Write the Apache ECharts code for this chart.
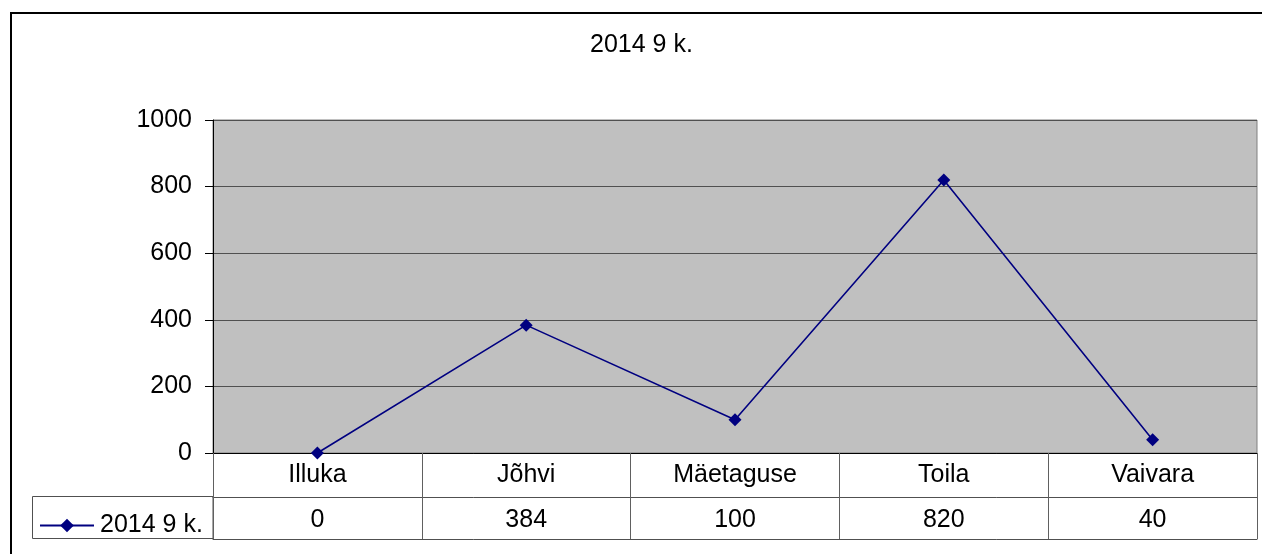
<!DOCTYPE html>
<html>
<head>
<meta charset="utf-8">
<title>2014 9 k.</title>
<script src="https://cdn.jsdelivr.net/npm/echarts@6/dist/echarts.min.js"></script>
<style>
    html, body { margin: 0; padding: 0; background: #fff; }
    #chart { width: 1262px; height: 554px; }
</style>
</head>
<body>
<div id="chart"></div>
<script>
// data
const categories = ['Illuka', 'Jõhvi', 'Mäetaguse', 'Toila', 'Vaivara'];
const values = [0, 384, 100, 820, 40];
const seriesName = '2014 9 k.';
const yTicks = [0, 200, 400, 600, 800, 1000];

const font = '"Liberation Sans", Arial, sans-serif';
const fs = 25;
let myChart = echarts.init(document.getElementById('chart'));

let option = {
    backgroundColor: '#fff',
    animation: false,
    title: {
        text: seriesName,
        left: 590,
        top: 33,
        padding: 0,
        textStyle: { fontFamily: font, fontSize: fs, fontWeight: 'normal', color: '#000' }
    },
    legend: {
        data: [seriesName],
        left: 39,
        top: 513,
        padding: 0,
        itemWidth: 54,
        itemHeight: 17,
        textStyle: { fontFamily: font, fontSize: fs, color: '#000', padding: [0, 0, 0, 1] }
    },
    grid: {
        left: 213,
        right: 5,
        top: 120,
        bottom: 101,
        show: true,
        backgroundColor: '#c0c0c0',
        borderColor: '#808080',
        borderWidth: 1
    },
    xAxis: [
        {
            // category row of the data table
            type: 'category',
            data: categories,
            boundaryGap: true,
            axisLine: { show: true, lineStyle: { color: '#000', width: 1 } },
            axisTick: { show: true, interval: 0, length: 86, lineStyle: { color: '#606060' } },
            axisLabel: { margin: 10, interval: 0, fontFamily: font, fontSize: fs, color: '#000' },
            splitLine: { show: false }
        },
        {
            // value row of the data table
            type: 'category',
            data: categories,
            position: 'bottom',
            offset: 44,
            axisLine: { show: true, lineStyle: { color: '#505050', width: 1 } },
            axisTick: { show: false },
            axisLabel: {
                margin: 11, interval: 0, fontFamily: font, fontSize: fs, color: '#000',
                formatter: (v, i) => String(values[i])
            }
        },
        {
            type: 'category',
            data: categories,
            position: 'bottom',
            offset: 86,
            axisLine: { show: true, lineStyle: { color: '#505050', width: 1 } },
            axisTick: { show: false },
            axisLabel: { show: false }
        }
    ],
    yAxis: {
        type: 'value',
        min: yTicks[0],
        max: yTicks[yTicks.length - 1],
        interval: 200,
        axisLine: { show: true, lineStyle: { color: '#000', width: 1 } },
        axisTick: { show: true, length: 8, lineStyle: { color: '#000' } },
        axisLabel: {
            margin: 21, fontFamily: font, fontSize: fs, color: '#000',
            formatter: (v) => String(v)
        },
        splitLine: { show: true, lineStyle: { color: '#505050', width: 1 } }
    },
    graphic: [
        {
            // outer chart border
            type: 'rect',
            shape: { x: 11, y: 13, width: 1300, height: 600 },
            style: { fill: 'none', stroke: '#000', lineWidth: 2 },
            silent: true
        },
        {
            // legend cell
            type: 'rect',
            shape: { x: 32.5, y: 496.5, width: 180.5, height: 42 },
            style: { fill: 'none', stroke: '#505050', lineWidth: 1 },
            silent: true
        }
    ],
    series: [{
        name: seriesName,
        type: 'line',
        data: values,
        symbol: 'diamond',
        symbolSize: 13,
        showAllSymbol: true,
        lineStyle: { color: '#000080', width: 1.6 },
        itemStyle: { color: '#000080' }
    }]
};

myChart.setOption(option);
</script>
</body>
</html>
